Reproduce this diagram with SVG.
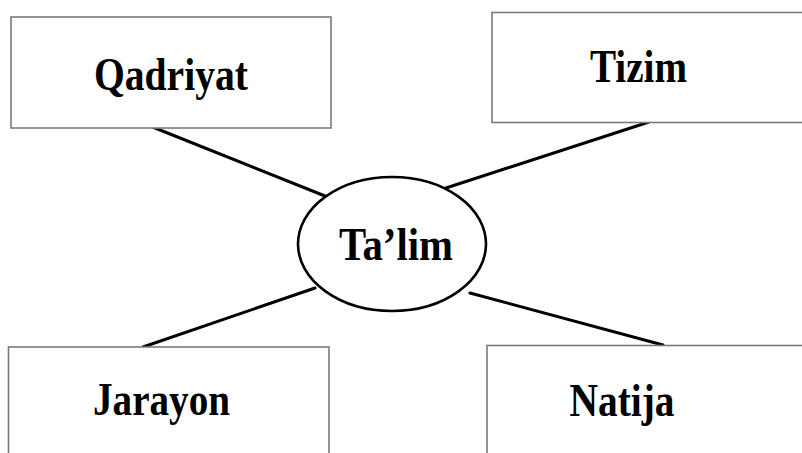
<svg xmlns="http://www.w3.org/2000/svg" width="802" height="453" viewBox="0 0 802 453">
  <style>
    .box { fill: #ffffff; stroke: #7a7a7a; stroke-width: 1.6; }
    .hub { fill: #ffffff; stroke: #000000; stroke-width: 2.6; }
    .link { stroke: #000000; stroke-width: 3; stroke-linecap: round; fill: none; }
    .label { font-family: "Liberation Serif", "Times New Roman", serif; font-weight: bold; font-size: 47px; fill: #000000; text-anchor: middle; }
  </style>
  <rect width="802" height="453" fill="#ffffff"/>

  <g id="connectors">
    <line class="link" x1="150" y1="126" x2="325" y2="196"/>
    <line class="link" x1="649" y1="122" x2="446" y2="188"/>
    <line class="link" x1="143" y1="347" x2="315" y2="288"/>
    <line class="link" x1="663" y1="345" x2="470" y2="293"/>
  </g>

  <g id="node-qadriyat">
    <rect class="box" x="11" y="17" width="320" height="111"/>
    <text class="label" x="171" y="90" textLength="154" lengthAdjust="spacingAndGlyphs">Qadriyat</text>
  </g>

  <g id="node-tizim">
    <rect class="box" x="492" y="12.5" width="320" height="110"/>
    <text class="label" x="638.5" y="82" textLength="97" lengthAdjust="spacingAndGlyphs">Tizim</text>
  </g>

  <g id="node-jarayon">
    <rect class="box" x="8.5" y="347" width="320.5" height="120"/>
    <text class="label" x="161.5" y="415" textLength="137" lengthAdjust="spacingAndGlyphs">Jarayon</text>
  </g>

  <g id="node-natija">
    <rect class="box" x="487" y="345.5" width="330" height="120"/>
    <text class="label" x="622" y="416" textLength="105" lengthAdjust="spacingAndGlyphs">Natija</text>
  </g>

  <g id="node-talim">
    <ellipse class="hub" cx="392" cy="244" rx="94" ry="67"/>
    <text class="label" x="396" y="260" textLength="114" lengthAdjust="spacingAndGlyphs">Ta’lim</text>
  </g>
</svg>
